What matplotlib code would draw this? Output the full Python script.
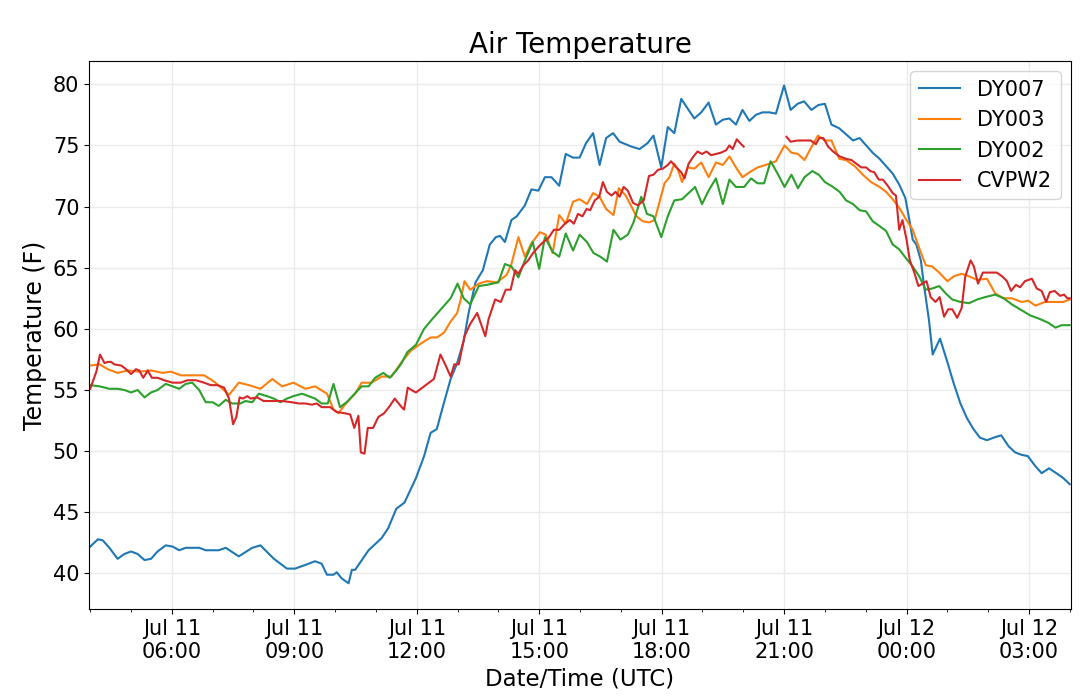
import numpy as np
import pandas as pd
import matplotlib
matplotlib.use("Agg")
import matplotlib.pyplot as plt
import matplotlib.dates as mdates

# hours after Jul 11 00:00 UTC and temperature (F)
dy007_hours = [4.0, 4.19, 4.31, 4.47, 4.67, 4.84, 5.0, 5.16, 5.33, 5.49, 5.65, 5.85, 6.02, 6.18, 6.34,
               6.67, 6.83, 7.15, 7.32, 7.64, 7.97, 8.17, 8.5, 8.82, 9.02, 9.27, 9.51, 9.67, 9.8, 9.96,
               10.04, 10.16, 10.33, 10.41, 10.49, 10.82, 11.14, 11.3, 11.5, 11.7, 11.98, 12.18, 12.34,
               12.49, 12.67, 12.83, 12.99, 13.15, 13.27, 13.44, 13.62, 13.79, 13.94, 14.04, 14.16, 14.32,
               14.45, 14.65, 14.81, 14.98, 15.14, 15.3, 15.49, 15.65, 15.83, 15.99, 16.15, 16.32, 16.48,
               16.64, 16.81, 16.97, 17.26, 17.46, 17.66, 17.8, 17.99, 18.15, 18.31, 18.48, 18.64, 18.8,
               18.97, 19.15, 19.33, 19.5, 19.66, 19.82, 19.98, 20.15, 20.31, 20.47, 20.64, 20.8, 21.0,
               21.16, 21.33, 21.49, 21.67, 21.84, 22.0, 22.16, 22.35, 22.52, 22.69, 22.85, 23.01, 23.17,
               23.34, 23.5, 23.66, 23.82, 23.97, 24.07, 24.15, 24.24, 24.35, 24.43, 24.55, 24.64, 24.82,
               24.99, 25.15, 25.32, 25.48, 25.64, 25.8, 25.97, 26.13, 26.32, 26.5, 26.66, 26.82, 26.97,
               27.15, 27.31, 27.49, 27.67, 27.84, 28.0]
dy007_temp = [42.2, 42.8, 42.7, 42.1, 41.2, 41.6, 41.8, 41.6, 41.1, 41.2, 41.8, 42.3, 42.2, 41.9, 42.1,
              42.1, 41.9, 41.9, 42.1, 41.4, 42.1, 42.3, 41.2, 40.4, 40.4, 40.7, 41.0, 40.8, 39.9, 39.9,
              40.1, 39.6, 39.2, 40.3, 40.3, 41.9, 42.9, 43.7, 45.3, 45.8, 47.8, 49.6, 51.5,
              51.8, 54.0, 55.9, 57.2, 59.0, 61.3, 63.8, 64.8, 66.9, 67.5, 67.6, 67.1, 68.9,
              69.2, 70.1, 71.4, 71.3, 72.4, 72.4, 71.7, 74.3, 74.0, 74.0, 75.2, 76.0, 73.4,
              75.6, 76.0, 75.3, 74.9, 74.7, 75.2, 75.8, 73.2, 76.5, 76.0, 78.8, 78.0, 77.2,
              77.7, 78.5, 76.7, 77.1, 77.2, 76.7, 77.9, 77.0, 77.5, 77.7, 77.7, 77.6, 79.9,
              77.9, 78.4, 78.6, 77.9, 78.3, 78.4, 76.7, 76.4, 75.9, 75.4, 75.6, 75.0, 74.4,
              73.9, 73.3, 72.7, 71.8, 70.7, 68.9, 67.3, 66.9, 65.6, 63.5, 60.7, 57.9, 59.2,
              57.4, 55.6, 53.9, 52.7, 51.8, 51.1, 50.9, 51.1, 51.3, 50.4, 49.9, 49.7, 49.6,
              48.8, 48.2, 48.6, 48.2, 47.8, 47.3]

dy003_hours = [4.0, 4.23, 4.43, 4.67, 4.92, 5.2, 5.49, 5.77, 5.98, 6.22, 6.5, 6.79, 7.03, 7.24, 7.4,
               7.64, 7.89, 8.17, 8.46, 8.7, 8.98, 9.27, 9.51, 9.8, 9.96, 10.08, 10.24, 10.49, 10.65,
               10.89, 11.14, 11.38, 11.61, 11.85, 12.1, 12.34, 12.5, 12.67, 12.83, 12.99, 13.07, 13.17,
               13.31, 13.52, 13.72, 13.96, 14.2, 14.32, 14.49, 14.65, 14.81, 15.02, 15.16, 15.33, 15.49,
               15.65, 15.83, 15.99, 16.17, 16.32, 16.48, 16.64, 16.82, 16.95, 17.12, 17.26, 17.38, 17.54,
               17.69, 17.83, 17.95, 18.07, 18.19, 18.31, 18.4, 18.5, 18.64, 18.8, 18.97, 19.15, 19.33,
               19.5, 19.66, 19.82, 19.98, 20.15, 20.35, 20.55, 20.8, 21.01, 21.18, 21.34, 21.5, 21.66,
               21.83, 22.0, 22.16, 22.35, 22.52, 22.73, 22.93, 23.13, 23.34, 23.5, 23.66, 23.82, 23.98,
               24.15, 24.31, 24.47, 24.63, 24.8, 25.0, 25.16, 25.35, 25.53, 25.73, 25.97, 26.17, 26.38,
               26.58, 26.82, 26.98, 27.16, 27.39, 27.63, 27.84, 28.0]
dy003_temp = [57.0, 57.1, 56.7, 56.4, 56.6, 56.5, 56.6, 56.4, 56.5, 56.2, 56.2, 56.2, 55.7, 55.1, 54.6,
              55.6, 55.4, 55.1, 55.9, 55.3, 55.6, 55.1, 55.3, 54.7, 53.4, 53.1, 53.8, 54.7, 55.6,
              55.6, 56.1, 56.1, 57.2, 58.2, 58.8, 59.3, 59.3, 59.7, 60.6, 61.3, 62.3, 63.9,
              63.2, 63.7, 63.9, 63.8, 64.4, 65.3, 67.5, 65.9, 67.0, 67.9, 67.7, 66.2, 69.3,
              68.6, 70.4, 70.6, 70.2, 71.1, 70.8, 69.8, 69.3, 71.5, 70.9, 70.0, 69.2, 68.8,
              68.7, 68.9, 70.4, 71.9, 72.4, 73.5, 73.0, 72.0, 73.2, 73.1, 73.6, 72.4, 73.6,
              73.4, 74.1, 73.2, 72.4, 72.8, 73.2, 73.4, 73.7, 75.0, 74.4, 74.3, 73.8, 74.8,
              75.8, 75.4, 75.4, 73.9, 73.8, 73.3, 72.6, 72.0, 71.6, 71.2, 70.6, 69.9, 69.0,
              68.1, 66.6, 65.2, 65.1, 64.6, 63.9, 64.3, 64.5, 64.3, 64.0, 64.1, 62.9, 62.5,
              62.5, 62.2, 62.3, 61.9, 62.2, 62.2, 62.2, 62.4]

dy002_hours = [4.0, 4.23, 4.47, 4.67, 4.84, 5.0, 5.16, 5.33, 5.49, 5.65, 5.85, 6.02, 6.18, 6.34, 6.5,
               6.67, 6.83, 7.0, 7.15, 7.32, 7.48, 7.68, 7.8, 7.97, 8.13, 8.33, 8.5, 8.66, 8.82, 8.98,
               9.19, 9.35, 9.51, 9.67, 9.82, 9.96, 10.12, 10.28, 10.45, 10.65, 10.82, 10.98, 11.18,
               11.34, 11.5, 11.61, 11.77, 11.98, 12.18, 12.38, 12.62, 12.83, 13.0, 13.15, 13.31, 13.52,
               13.72, 14.0, 14.16, 14.32, 14.49, 14.65, 14.84, 15.0, 15.14, 15.33, 15.49, 15.65, 15.83,
               15.99, 16.17, 16.33, 16.5, 16.66, 16.82, 16.99, 17.17, 17.31, 17.5, 17.64, 17.8, 17.99,
               18.15, 18.31, 18.5, 18.66, 18.82, 18.99, 19.15, 19.33, 19.5, 19.66, 19.82, 20.02, 20.19,
               20.35, 20.51, 20.67, 20.84, 21.01, 21.18, 21.34, 21.5, 21.69, 21.85, 22.0, 22.2, 22.36,
               22.52, 22.69, 22.85, 23.01, 23.17, 23.34, 23.5, 23.66, 23.82, 23.98, 24.15, 24.31, 24.47,
               24.63, 24.8, 24.96, 25.12, 25.32, 25.53, 25.73, 25.93, 26.17, 26.38, 26.58, 26.78, 27.03,
               27.27, 27.47, 27.65, 27.8, 28.0]
dy002_temp = [55.4, 55.3, 55.1, 55.1, 55.0, 54.8, 55.0, 54.4, 54.8, 55.0, 55.5, 55.3, 55.1, 55.5, 55.6,
              55.0, 54.0, 54.0, 53.7, 54.2, 53.9, 53.9, 54.1, 54.0, 54.7, 54.5, 54.3, 54.0, 54.3, 54.5,
              54.7, 54.5, 54.3, 53.9, 53.9, 55.5, 53.6, 54.0, 54.6, 55.3, 55.3, 56.0, 56.4,
              56.0, 56.6, 57.1, 58.1, 58.7, 60.0, 60.8, 61.7, 62.5, 63.7, 62.5, 62.0, 63.5,
              63.6, 63.8, 65.3, 65.1, 64.2, 65.6, 67.1, 64.9, 67.5, 66.3, 65.9, 67.8, 66.4,
              67.7, 67.1, 66.2, 65.9, 65.5, 68.1, 67.3, 67.7, 68.7, 70.8, 69.4, 69.2, 67.5,
              69.2, 70.5, 70.6, 71.1, 71.6, 70.2, 71.3, 72.3, 70.2, 72.2, 71.6, 71.6, 72.3,
              71.9, 71.9, 73.7, 72.7, 71.6, 72.6, 71.5, 72.4, 72.9, 72.6, 72.0, 71.6, 71.2,
              70.5, 70.2, 69.7, 69.6, 68.8, 68.4, 68.0, 66.9, 66.5, 65.8, 65.1, 64.3, 63.2,
              63.3, 63.5, 62.9, 62.4, 62.2, 62.1, 62.4, 62.6, 62.8, 62.5, 62.0, 61.6, 61.1,
              60.8, 60.5, 60.1, 60.3, 60.3]

# CVPW2 has no data between about 20:00 and 21:00 (nan marks the gap)
cvpw2_hours = [4.0, 4.15, 4.24, 4.35, 4.43, 4.51, 4.59, 4.76, 4.88, 5.0, 5.12, 5.2, 5.3, 5.41, 5.51,
               5.65, 5.81, 6.02, 6.22, 6.38, 6.59, 6.79, 6.95, 7.11, 7.28, 7.4, 7.5, 7.58, 7.66, 7.74,
               7.85, 7.93, 8.09, 8.25, 8.46, 8.7, 8.94, 9.11, 9.27, 9.43, 9.55, 9.67, 9.88, 10.04,
               10.24, 10.37, 10.47, 10.57, 10.63, 10.72, 10.8, 10.93, 11.06, 11.2, 11.34, 11.46, 11.63,
               11.69, 11.78, 11.87, 11.98, 12.18, 12.42, 12.58, 12.71, 12.83, 12.92, 13.03, 13.17, 13.31,
               13.48, 13.68, 13.76, 13.92, 14.06, 14.18, 14.3, 14.41, 14.49, 14.61, 14.73, 14.85, 14.98,
               15.1, 15.22, 15.36, 15.49, 15.63, 15.75, 15.85, 15.95, 16.06, 16.16, 16.25, 16.36, 16.47,
               16.56, 16.66, 16.77, 16.87, 16.97, 17.07, 17.17, 17.3, 17.42, 17.56, 17.69, 17.8, 17.91,
               18.03, 18.15, 18.23, 18.36, 18.48, 18.56, 18.66, 18.78, 18.88, 18.99, 19.1, 19.21, 19.33,
               19.45, 19.58, 19.66, 19.74, 19.84, 19.92, 20.01, 20.5, 21.06, 21.16, 21.33, 21.49, 21.65,
               21.78, 21.86, 21.96, 22.08, 22.2, 22.36, 22.52, 22.65, 22.77, 22.89, 23.01, 23.11, 23.21,
               23.32, 23.42, 23.54, 23.66, 23.74, 23.82, 23.9, 24.0, 24.08, 24.19, 24.29, 24.39, 24.49,
               24.59, 24.71, 24.81, 24.92, 25.02, 25.12, 25.24, 25.35, 25.44, 25.57, 25.65, 25.75, 25.87,
               26.01, 26.21, 26.34, 26.46, 26.56, 26.68, 26.78, 26.9, 27.07, 27.19, 27.31, 27.42, 27.51,
               27.63, 27.76, 27.86, 27.94, 28.0]
cvpw2_temp = [55.1, 56.5, 57.9, 57.2, 57.3, 57.3, 57.1, 57.0, 56.7, 56.3, 56.7, 56.6, 56.0, 56.6, 56.0,
              56.0, 55.8, 55.6, 55.6, 55.8, 55.8, 55.6, 55.4, 55.4, 55.2, 54.3, 52.2, 52.8, 54.4, 54.3,
              54.5, 54.3, 54.4, 54.1, 54.1, 54.1, 54.0, 53.9, 53.9, 53.8, 53.9, 53.6, 53.6, 53.2,
              53.1, 53.0, 51.9, 52.9, 49.9, 49.8, 51.9, 51.9, 52.8, 53.1, 53.7, 54.3, 53.6,
              53.4, 55.2, 55.0, 54.8, 55.3, 55.9, 57.9, 57.0, 56.1, 57.1, 57.1, 59.4, 60.4,
              61.3, 59.4, 60.8, 62.4, 62.2, 63.2, 63.2, 64.8, 64.5, 65.2, 65.6, 66.2, 66.7,
              67.1, 67.4, 68.1, 68.1, 68.6, 68.9, 68.6, 69.4, 69.2, 69.8, 69.7, 70.5, 70.8,
              72.0, 71.2, 70.9, 71.2, 70.8, 71.6, 71.3, 70.3, 70.1, 70.5, 72.5, 72.6, 73.0,
              73.1, 73.4, 73.7, 73.2, 72.8, 72.3, 73.5, 74.1, 74.5, 74.3, 74.5, 74.2, 74.3,
              74.4, 74.6, 75.0, 74.7, 75.5, 75.2, 74.9, np.nan, 75.7, 75.3, 75.4, 75.4, 75.4,
              75.1, 75.6, 75.6, 74.9, 74.5, 74.1, 73.9, 73.8, 73.5, 73.2, 73.2, 72.9, 72.8,
              72.2, 72.2, 71.7, 71.1, 70.9, 68.1, 68.9, 67.3, 65.6, 64.6, 63.5, 63.7, 63.9,
              62.6, 62.2, 62.6, 61.0, 61.6, 61.6, 60.9, 61.7, 64.3, 65.6, 65.1, 63.7, 64.6,
              64.6, 64.6, 64.3, 63.9, 63.1, 63.6, 63.4, 63.9, 64.1, 63.3, 63.1, 62.2, 63.0,
              63.1, 62.7, 62.8, 62.5, 62.5]

stations = ["DY007", "DY003", "DY002", "CVPW2"]
station_hours = [dy007_hours, dy003_hours, dy002_hours, cvpw2_hours]
station_temps = [dy007_temp, dy003_temp, dy002_temp, cvpw2_temp]

day0 = pd.Timestamp("2019-07-11 00:00")


def to_times(hours):
    return day0 + pd.to_timedelta(np.array(hours), unit="h")


fig, ax = plt.subplots(figsize=(10.8, 6.97), dpi=100)
fig.subplots_adjust(left=0.0824, right=0.9917, top=0.9125, bottom=0.1263)

for name, hrs, temps in zip(stations, station_hours, station_temps):
    ax.plot(to_times(hrs), temps, label=name, linewidth=1.5)

ax.set_xlim(to_times([3.97])[0], to_times([28.03])[0])
ax.set_ylim(37.1, 81.9)
ax.set_yticks(np.arange(40, 81, 5))

ax.xaxis.set_major_locator(mdates.HourLocator(byhour=range(0, 24, 3)))
ax.xaxis.set_minor_locator(mdates.HourLocator())
ax.xaxis.set_major_formatter(mdates.DateFormatter("%b %d\n%H:%M"))

ax.grid(True, color="#ebebeb", linewidth=1.0)
ax.set_axisbelow(True)
ax.tick_params(axis="both", which="major", labelsize=15)

ax.set_title("Air Temperature", fontsize=20)
ax.set_xlabel("Date/Time (UTC)", fontsize=16.5)
ax.set_ylabel("Temperature (F)", fontsize=17)
ax.legend(loc="upper right", fontsize=15)

fig.savefig("out.png", dpi=100)
